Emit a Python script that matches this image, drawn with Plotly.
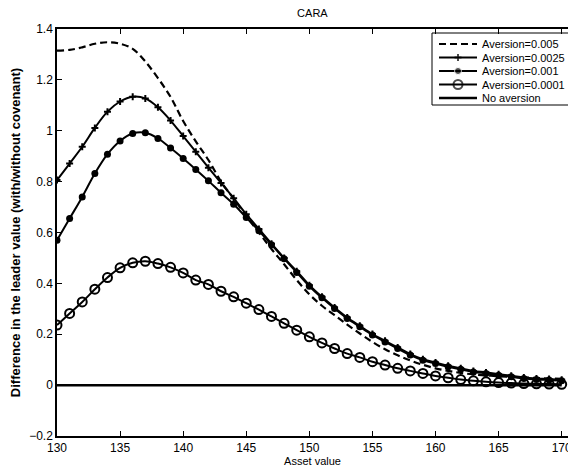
import plotly.graph_objects as go

x_vals = list(range(130, 171))

aversion_0005 = [1.315, 1.318, 1.328, 1.342, 1.348, 1.342, 1.322, 1.272, 1.207, 1.133,
                 1.038, 0.958, 0.885, 0.800, 0.733, 0.665, 0.600, 0.535, 0.475, 0.413,
                 0.357, 0.312, 0.275, 0.238, 0.203, 0.170, 0.141, 0.117, 0.097, 0.080,
                 0.066, 0.056, 0.048, 0.042, 0.038, 0.035, 0.032, 0.030, 0.028, 0.026, 0.025]

aversion_00025 = [0.806, 0.871, 0.937, 1.011, 1.075, 1.115, 1.134, 1.127, 1.092, 1.040,
                  0.979, 0.917, 0.855, 0.795, 0.735, 0.672, 0.614, 0.556, 0.500, 0.448,
                  0.393, 0.347, 0.305, 0.266, 0.233, 0.201, 0.174, 0.148, 0.122, 0.102,
                  0.089, 0.076, 0.066, 0.056, 0.050, 0.043, 0.037, 0.030, 0.026, 0.024, 0.021]

aversion_0001 = [0.570, 0.655, 0.740, 0.832, 0.908, 0.960, 0.989, 0.992, 0.970, 0.932,
                 0.891, 0.848, 0.803, 0.756, 0.711, 0.659, 0.607, 0.552, 0.497, 0.443,
                 0.389, 0.343, 0.301, 0.262, 0.229, 0.197, 0.170, 0.144, 0.118, 0.098,
                 0.085, 0.072, 0.062, 0.052, 0.046, 0.039, 0.033, 0.026, 0.022, 0.020, 0.017]

aversion_00001 = [0.236, 0.282, 0.327, 0.377, 0.423, 0.461, 0.481, 0.487, 0.478, 0.463,
                  0.441, 0.413, 0.396, 0.369, 0.347, 0.322, 0.297, 0.270, 0.243, 0.216,
                  0.190, 0.166, 0.144, 0.124, 0.109, 0.092, 0.079, 0.066, 0.056, 0.046,
                  0.036, 0.029, 0.022, 0.017, 0.013, 0.010, 0.008, 0.006, 0.005, 0.004, 0.003]

no_aversion = [0.0] * len(x_vals)

series_names = ["Aversion=0.005", "Aversion=0.0025", "Aversion=0.001",
                "Aversion=0.0001", "No aversion"]

x_ticks = [130, 135, 140, 145, 150, 155, 160, 165, 170]
y_ticks = [-0.2, 0, 0.2, 0.4, 0.6, 0.8, 1, 1.2, 1.4]
y_tick_text = ["\u22120.2", "0", "0.2", "0.4", "0.6", "0.8", "1", "1.2", "1.4"]

FONT = "Liberation Sans, Arial, Helvetica, sans-serif"

# figure geometry (pixels)
W, H = 568, 468
L, T, B = 57, 29, 436

styles = [
    dict(mode="lines", line=dict(color="black", width=2.2, dash="7px,4px", shape="spline"),
         marker=None),
    dict(mode="lines+markers", line=dict(color="black", width=2, shape="spline"),
         marker=dict(symbol="cross-thin", size=5, color="black", line=dict(color="black", width=2))),
    dict(mode="lines+markers", line=dict(color="black", width=2, shape="spline"),
         marker=dict(symbol="circle", size=7, color="black")),
    dict(mode="lines+markers", line=dict(color="black", width=2, shape="spline"),
         marker=dict(symbol="circle-open", size=9, color="black", line=dict(color="black", width=2))),
    dict(mode="lines", line=dict(color="black", width=2.5), marker=None),
]
series = [aversion_0005, aversion_00025, aversion_0001, aversion_00001, no_aversion]

fig = go.Figure()
for name, ys, st in zip(series_names, series, styles):
    kw = dict(x=x_vals, y=ys, mode=st["mode"], name=name, line=st["line"], showlegend=False)
    if st["marker"] is not None:
        kw["marker"] = st["marker"]
    fig.add_trace(go.Scatter(**kw))

# ---- hand-built compact legend (matlab style) on a pixel overlay axis ----
leg_left, leg_top, leg_bottom = 432, 33, 105
row_y = [44, 57.5, 71, 84.5, 98]
sample_x0, sample_x1, text_x = 439, 477, 480

def px_x(p):
    return (p - L) / (W - L)

def px_y(p):
    return (B - p) / (B - T)

shapes = [dict(type="rect", xref="paper", yref="paper", layer="below",
               x0=px_x(leg_left), x1=px_x(W + 10), y0=px_y(leg_bottom), y1=px_y(leg_top),
               line=dict(color="black", width=1), fillcolor="white")]
annotations = []
for name, st, ry in zip(series_names, styles, row_y):
    line = dict(st["line"])
    line.pop("shape", None)
    if st["marker"] is not None:
        mk = dict(st["marker"])
        mk["size"] = [0, st["marker"]["size"], 0]
        fig.add_trace(go.Scatter(x=[sample_x0, (sample_x0 + sample_x1) / 2, sample_x1],
                                 y=[ry, ry, ry], mode="lines+markers", line=line, marker=mk,
                                 xaxis="x2", yaxis="y2", showlegend=False, hoverinfo="skip"))
    else:
        fig.add_trace(go.Scatter(x=[sample_x0, sample_x1], y=[ry, ry], mode="lines", line=line,
                                 xaxis="x2", yaxis="y2", showlegend=False, hoverinfo="skip"))
    annotations.append(dict(text=name, xref="paper", yref="paper", x=px_x(text_x), y=px_y(ry),
                            xanchor="left", yanchor="middle", showarrow=False,
                            font=dict(size=11, family=FONT, color="black")))

fig.update_layout(
    width=W, height=H,
    margin=dict(l=L, r=0, t=T, b=H - B, autoexpand=False),
    paper_bgcolor="white", plot_bgcolor="white",
    font=dict(family=FONT, size=11, color="black"),
    title=dict(text="CARA", x=0.55, xanchor="center", y=1 - 13 / H, yanchor="middle",
               font=dict(size=11, family=FONT, color="black")),
    showlegend=False,
    shapes=shapes,
    annotations=annotations,
    xaxis=dict(range=[130, 170.5], tickvals=x_ticks, ticktext=[str(t) for t in x_ticks],
               ticks="inside", ticklen=5, tickwidth=1, tickcolor="black",
               showline=True, linecolor="black", linewidth=1.5, mirror="ticks",
               showgrid=False, zeroline=False, ticklabeloverflow="allow",
               tickfont=dict(size=12, family=FONT, color="black"),
               title=dict(text="Asset value", font=dict(size=11, family=FONT, color="black"),
                          standoff=2)),
    yaxis=dict(range=[-0.2, 1.4], tickvals=y_ticks, ticktext=y_tick_text,
               ticks="inside", ticklen=5, tickwidth=1, tickcolor="black",
               showline=True, linecolor="black", linewidth=1.5, mirror=False,
               showgrid=False, zeroline=False,
               tickfont=dict(size=12, family=FONT, color="black"),
               title=dict(text="<b>Difference in the leader value (with/without covenant)</b>",
                          font=dict(size=13, family=FONT, color="black"), standoff=6)),
    xaxis2=dict(overlaying="x", range=[L, W], visible=False, fixedrange=True),
    yaxis2=dict(overlaying="y", range=[B, T], visible=False, fixedrange=True),
)

fig.write_html("out.html")
